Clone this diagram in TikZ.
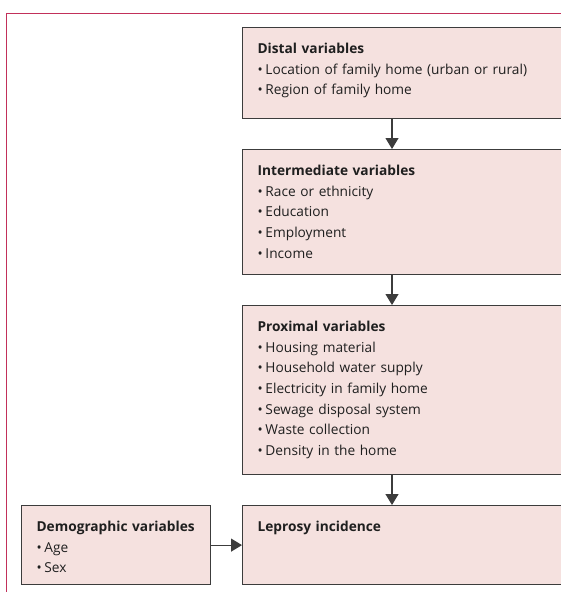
\documentclass[tikz,border=0pt]{standalone}
\usepackage{fontspec}
\setmainfont{Open Sans}
\usetikzlibrary{arrows.meta}
\definecolor{boxfill}{HTML}{F5E1DF}
\definecolor{boxline}{HTML}{3C3C3C}
\definecolor{framered}{HTML}{C2305A}
\newcommand{\itm}{•\hspace{0.2em}}
\tikzset{
    varbox/.style={draw=boxline, fill=boxfill, line width=1.2pt, anchor=north west,
        align=left, inner xsep=15pt, inner ysep=0pt, text height=26pt},
    link/.style={draw=boxline, line width=1.2pt, -{Triangle[width=13pt,length=11pt]}}
}

\begin{document}
\begin{tikzpicture}
  [
    x                       = 1pt,
    y                       = -1pt,
    every node/.style       = {font=\fontsize{13.7}{20.6}\selectfont, text=black!88},
  ]
  \clip (0,0) rectangle (561,592);
  \useasboundingbox (0,0) rectangle (561,592);
  % frame
  \draw[framered, line width=1pt] (6.5,600) -- (6.5,13) -- (600,13);
  \coordinate (spine) at (392,0);
  \node [varbox, text width=308pt, text depth=65pt] (distal) at (242,27)
    {\textbf{Distal variables}\\
     \itm Location of family home (urban or rural)\\
     \itm Region of family home};
  \node [varbox, text width=308pt, text depth=99pt] (intermediate) at (242,149)
    {\textbf{Intermediate variables}\\
     \itm Race or ethnicity\\
     \itm Education\\
     \itm Employment\\
     \itm Income};
  \node [varbox, text width=308pt, text depth=143pt] (proximal) at (242,305)
    {\textbf{Proximal variables}\\
     \itm Housing material\\
     \itm Household water supply\\
     \itm Electricity in family home\\
     \itm Sewage disposal system\\
     \itm Waste collection\\
     \itm Density in the home};
  \node [varbox, text width=308pt, text depth=53pt] (leprosy) at (242,505)
    {\textbf{Leprosy incidence}};
  \node [varbox, text width=159pt, text depth=53pt] (demographic) at (21,505)
    {\textbf{Demographic variables}\\
     \itm Age\\
     \itm Sex};
  \draw [link] (distal.south -| spine) -- (intermediate.north -| spine);
  \draw [link] (intermediate.south -| spine) -- (proximal.north -| spine);
  \draw [link] (proximal.south -| spine) -- (leprosy.north -| spine);
  \draw [link] (demographic.east) -- (leprosy.west);
\end{tikzpicture}
\end{document}
